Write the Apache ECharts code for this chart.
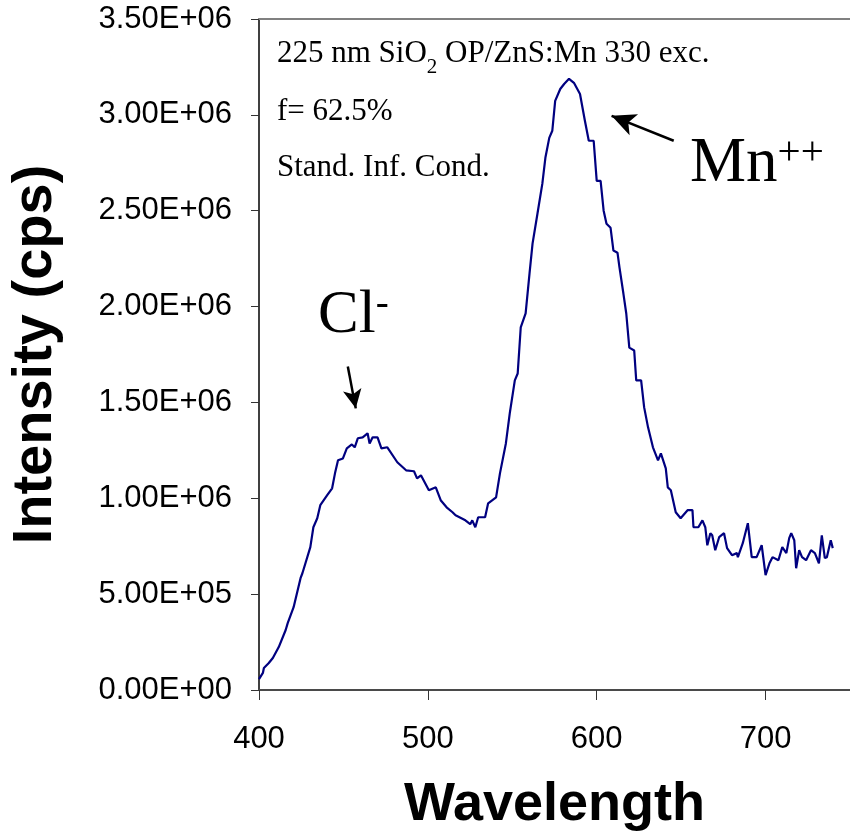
<!DOCTYPE html>
<html>
<head>
<meta charset="utf-8">
<script src="https://cdn.jsdelivr.net/npm/echarts@6/dist/echarts.min.js"></script>
<style>
  html, body { margin: 0; padding: 0; background: #ffffff; }
  #chart { width: 850px; height: 840px; }
</style>
</head>
<body>
<div id="chart"></div>
<script>
// Emission spectrum, ZnS:Mn on SiO2 opal, 330 nm excitation
const wavelength = [
  400.0, 402.3, 402.9, 405.8, 408.2, 411.7, 415.8, 417.0, 420.5, 424.6,
  425.7, 430.4, 432.2, 434.5, 436.3, 440.4, 443.3, 445.0, 446.8, 449.7,
  452.0, 455.0, 456.7, 458.5, 461.4, 464.3, 465.5, 467.3, 470.2, 472.5,
  476.0, 481.9, 487.1, 491.8, 493.6, 495.9, 500.6, 504.7, 507.6, 511.1,
  514.6, 516.4, 522.2, 525.1, 526.3, 528.1, 529.8, 533.9, 535.7, 540.4,
  542.7, 546.2, 548.5, 551.5, 553.2, 555.0, 557.9, 560.2, 562.0, 564.9,
  567.8, 569.6, 571.9, 573.7, 575.4, 578.4, 580.7, 583.6, 586.5, 590.1,
  593.0, 595.3, 598.2, 600.0, 602.3, 604.1, 605.8, 608.2, 609.9, 612.3,
  613.5, 615.8, 617.5, 619.3, 622.2, 623.4, 626.3, 628.1, 630.4, 633.3,
  636.3, 638.0, 640.9, 642.1, 643.9, 646.8, 649.7, 653.8, 656.7, 657.3,
  660.2, 662.6, 664.3, 665.5, 667.3, 668.4, 670.2, 672.5, 675.4, 677.2,
  680.1, 683.0, 683.6, 686.5, 689.5, 691.8, 694.7, 697.7, 700.0, 702.3,
  704.1, 707.6, 709.9, 712.3, 714.0, 715.2, 717.0, 718.1, 719.9, 721.6,
  724.0, 726.9, 729.2, 731.6, 733.3, 735.1, 736.3, 738.6, 739.8
];

// Intensity in thousands of counts per second
const intensityKcps = [
  57, 89, 115, 141, 167, 224, 313, 349, 432, 583,
  609, 745, 849, 896, 964, 1016, 1052, 1130, 1198, 1208,
  1260, 1281, 1266, 1313, 1318, 1339, 1286, 1318, 1318, 1260,
  1266, 1188, 1146, 1141, 1104, 1120, 1042, 1057, 990, 953,
  927, 911, 885, 865, 885, 849, 901, 901, 974, 1005,
  1130, 1286, 1443, 1615, 1651, 1891, 1964, 2172, 2328, 2484,
  2641, 2776, 2880, 2917, 3073, 3135, 3161, 3188, 3167, 3109,
  2969, 2865, 2865, 2656, 2656, 2500, 2432, 2411, 2292, 2281,
  2203, 2068, 1964, 1786, 1771, 1615, 1615, 1474, 1370, 1266,
  1198, 1234, 1156, 1057, 1042, 927, 896, 938, 938, 849,
  849, 885, 849, 755, 818, 807, 729, 797, 818, 740,
  703, 714, 693, 766, 870, 693, 693, 755, 599, 661,
  693, 677, 745, 714, 792, 818, 781, 635, 729, 693,
  677, 729, 714, 661, 807, 688, 693, 781, 740
];

const yTickLabels = ['0.00E+00', '5.00E+05', '1.00E+06', '1.50E+06',
                     '2.00E+06', '2.50E+06', '3.00E+06', '3.50E+06'];
const xTickLabels = ['400', '500', '600', '700'];

// Arrow annotations, in data coordinates [wavelength, intensity]
const mnArrow = [[645.6, 2865000], [608.8, 2995000]];
const clArrow = [[452.6, 1687000], [457.3, 1469000]];

const seriesData = wavelength.map((w, i) => [w, intensityKcps[i] * 1000]);

const SANS = '"Liberation Sans", Arial, sans-serif';
const SERIF = '"Liberation Serif", "Times New Roman", serif';

const chart = echarts.init(document.getElementById('chart'), null, { renderer: 'canvas' });

chart.setOption({
  backgroundColor: '#ffffff',
  animation: false,
  grid: { left: 258, top: 19, right: -7, bottom: 150, containLabel: false },
  xAxis: [{
    type: 'value',
    min: 400, max: 750, interval: 100,
    name: 'Wavelength',
    nameLocation: 'middle',
    nameGap: 115,
    nameTextStyle: { fontFamily: SANS, fontWeight: 'bold', fontSize: 54, color: '#000', verticalAlign: 'middle' },
    axisLine: { show: true, onZero: false, lineStyle: { color: '#4a4a4a', width: 2 } },
    axisTick: { show: true, length: 10, lineStyle: { color: '#333', width: 1 } },
    axisLabel: {
      showMaxLabel: false,
      margin: 34,
      fontFamily: SANS, fontSize: 31, color: '#000',
      formatter: v => xTickLabels[Math.round((v - 400) / 100)] || ''
    },
    splitLine: { show: false }
  }, {
    type: 'value',
    position: 'top',
    min: 400, max: 750,
    axisLine: { show: true, onZero: false, lineStyle: { color: '#808080', width: 2 } },
    axisTick: { show: false },
    axisLabel: { show: false },
    splitLine: { show: false }
  }],
  yAxis: {
    type: 'value',
    min: 0, max: 3500000, interval: 500000,
    name: 'Intensity (cps)',
    nameLocation: 'middle',
    nameRotate: 90,
    nameGap: 223,
    nameTextStyle: { fontFamily: SANS, fontWeight: 'bold', fontSize: 56, color: '#000', verticalAlign: 'middle' },
    axisLine: { show: true, lineStyle: { color: '#000', width: 1.5 } },
    axisTick: { show: true, length: 8, lineStyle: { color: '#333', width: 1 } },
    axisLabel: {
      margin: 27,
      fontFamily: SANS, fontSize: 31, color: '#000',
      formatter: v => yTickLabels[Math.round(v / 500000)]
    },
    splitLine: { show: false }
  },
  series: [{
    type: 'line',
    xAxisIndex: 0,
    data: seriesData,
    showSymbol: false,
    symbol: 'none',
    lineStyle: { color: '#000080', width: 2.2 },
    clip: true,
    markLine: {
      silent: true,
      symbol: ['none', 'arrow'],
      symbolSize: [17, 24],
      label: { show: false },
      lineStyle: { color: '#000', width: 2.5, type: 'solid' },
      data: [
        [{ coord: mnArrow[0] }, { coord: mnArrow[1] }],
        [{ coord: clArrow[0], symbolSize: [14, 19] }, { coord: clArrow[1], symbolSize: [14, 19] }]
      ]
    }
  }],
  graphic: [
    {
      type: 'text', left: 277, top: 38, silent: true,
      style: {
        text: '{a|225 nm SiO}{s|2}{a| OP/ZnS:Mn 330 exc.}',
        rich: {
          a: { fontFamily: SERIF, fontSize: 31, lineHeight: 36, fill: '#000', verticalAlign: 'top' },
          s: { fontFamily: SERIF, fontSize: 21, lineHeight: 21, fill: '#000', verticalAlign: 'top', padding: [19, 0, 0, 0] }
        }
      }
    },
    {
      type: 'text', left: 277, top: 96, silent: true,
      style: { text: 'f= 62.5%', fontFamily: SERIF, fontSize: 31, fill: '#000' }
    },
    {
      type: 'text', left: 277, top: 152, silent: true,
      style: { text: 'Stand. Inf. Cond.', fontFamily: SERIF, fontSize: 31, fill: '#000' }
    },
    {
      type: 'text', left: 690, top: 133, silent: true,
      style: {
        text: '{m|Mn}{p|++}',
        rich: {
          m: { fontFamily: SERIF, fontSize: 63, lineHeight: 66, fill: '#000', verticalAlign: 'top' },
          p: { fontFamily: SERIF, fontSize: 41, lineHeight: 41, fill: '#000', verticalAlign: 'top', padding: [0, 0, 24, 0] }
        }
      }
    },
    {
      type: 'text', left: 318, top: 285, silent: true,
      style: {
        text: '{m|Cl}{p|-}',
        rich: {
          m: { fontFamily: SERIF, fontSize: 61, lineHeight: 64, fill: '#000', verticalAlign: 'top' },
          p: { fontFamily: SERIF, fontSize: 39, lineHeight: 39, fill: '#000', verticalAlign: 'top', padding: [0, 0, 24, 0] }
        }
      }
    }
  ]
});
</script>
</body>
</html>
